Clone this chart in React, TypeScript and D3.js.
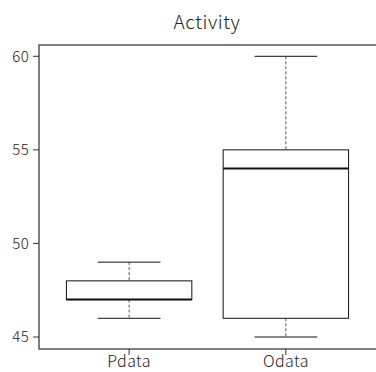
import React from "react";
import * as d3 from "d3";

const categories = ["Pdata", "Odata"];
const mins = [46, 45];
const q1s = [47, 46];
const medians = [47, 54];
const q3s = [48, 55];
const maxs = [49, 60];
const yTicks = [45, 50, 55, 60];
const title = "Activity";

const W = 376, H = 372;
const left = 39, right = 376, top = 45, bottom = 349;
const font = "'Noto Sans CJK JP', 'Noto Sans', sans-serif";

export default function App() {
  const x = d3.scalePoint<string>().domain(categories).range([left, right]).padding(0.575);
  const y = d3.scaleLinear().domain([45, 60]).range([337, 56.3]);
  const step = x.step();
  const boxW = step * 0.8;
  const capW = step * 0.4;
  return (
    <svg width={W} height={H} style={{ position: "absolute", left: 0, top: 0 }}>
      <rect width={W} height={H} fill="#fff" />
      <text x={207} y={29} textAnchor="middle" fontFamily={font} fontWeight={300} fontSize={19} letterSpacing={0.6} fill="#222">{title}</text>
      {categories.map((c, i) => {
        const cx = x(c)!;
        return (
          <g key={c}>
            <line x1={cx} x2={cx} y1={y(maxs[i])} y2={y(q3s[i])} stroke="#555" strokeDasharray="3,2" />
            <line x1={cx} x2={cx} y1={y(q1s[i])} y2={y(mins[i])} stroke="#555" strokeDasharray="3,2" />
            <line x1={cx - capW / 2} x2={cx + capW / 2} y1={y(maxs[i])} y2={y(maxs[i])} stroke="#111" />
            <line x1={cx - capW / 2} x2={cx + capW / 2} y1={y(mins[i])} y2={y(mins[i])} stroke="#111" />
            <rect x={cx - boxW / 2} y={y(q3s[i])} width={boxW} height={y(q1s[i]) - y(q3s[i])} fill="#fff" stroke="#111" />
            <line x1={cx - boxW / 2} x2={cx + boxW / 2} y1={y(medians[i])} y2={y(medians[i])} stroke="#111" strokeWidth={2} />
          </g>
        );
      })}
      <path d={`M${right + 2},${top}H${left}V${bottom}H${right + 2}`} fill="none" stroke="#555" strokeWidth={1.5} />
      {yTicks.map((t) => (
        <g key={t}>
          <line x1={33} x2={left} y1={y(t)} y2={y(t)} stroke="#333" />
          <text x={29} y={y(t)} dy="0.35em" textAnchor="end" fontFamily={font} fontWeight={300} fontSize={15} letterSpacing={0.3} fill="#222">{t}</text>
        </g>
      ))}
      {categories.map((c) => (
        <g key={c}>
          <line x1={x(c)!} x2={x(c)!} y1={bottom} y2={bottom + 6} stroke="#333" />
          <text x={x(c)!} y={367} textAnchor="middle" fontFamily={font} fontWeight={300} fontSize={16} letterSpacing={0.4} fill="#222">{c}</text>
        </g>
      ))}
    </svg>
  );
}
